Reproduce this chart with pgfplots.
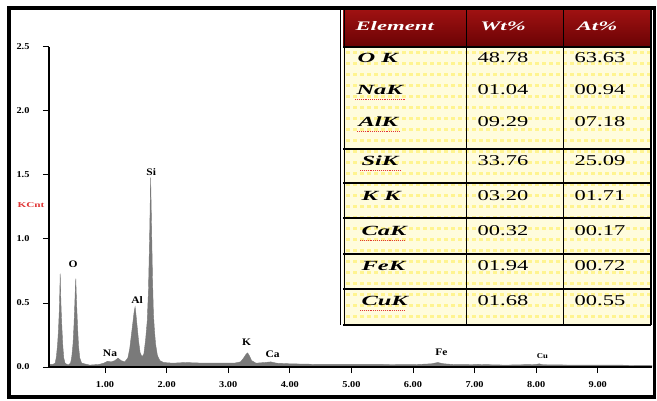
\documentclass[border=0pt]{standalone}
\usepackage{pgfplots}
\pgfplotsset{compat=1.18}
\usepackage{fontspec}
\setmainfont{Liberation Serif}
\newfontfamily\tabname[FakeStretch=1.75]{Liberation Serif}
\newfontfamily\tabnum[FakeStretch=1.5]{Liberation Serif}
\newfontfamily\tickfont[FakeStretch=1.15]{Liberation Serif}
\newfontfamily\kfont[FakeStretch=1.5]{Liberation Serif}
\definecolor{specgray}{HTML}{7A7A7A}
\definecolor{hdtop}{HTML}{A01212}
\definecolor{hdbot}{HTML}{6A0204}
\definecolor{ybg}{HTML}{FFFCDD}
\definecolor{ystripe}{HTML}{FFF490}
\definecolor{kred}{HTML}{E03535}
\begin{document}
\begin{tikzpicture}[x=1pt,y=1pt]
\useasboundingbox (0,0) rectangle (657,-401);
\fill[white] (0,0) rectangle (657,-401);
\begin{axis}[
  at={(49pt,-367pt)}, anchor=south west,
  scale only axis, width=603pt, height=320pt,
  xmin=0.09, xmax=9.88, ymin=0, ymax=2.5,
  axis x line=bottom, axis y line=left,
  axis line style={-, line width=1.3pt, black},
  axis on top,
  tick align=outside, major tick length=6pt,
  every tick/.style={black, line width=1pt},
  xtick={1,2,3,4,5,6,7,8,9},
  ytick={0,0.5,1,1.5,2,2.5},
  /pgf/number format/assume math mode=true,
  ticklabel style={font=\tickfont\fontsize{9}{10}\selectfont\bfseries},
  xticklabel style={/pgf/number format/.cd, fixed, fixed zerofill, precision=2, /tikz/.cd, yshift=-5pt},
  yticklabel style={/pgf/number format/.cd, fixed, fixed zerofill, precision=1, /tikz/.cd, xshift=-10pt},
  clip=false,
]
\addplot[fill=specgray, draw=specgray, line width=0.4pt] coordinates {
(0.09,0.02) (0.15,0.02) (0.19,0.03) (0.21,0.08) (0.23,0.18) (0.245,0.30)
(0.258,0.45) (0.267,0.62) (0.272,0.73) (0.278,0.60) (0.287,0.45) (0.30,0.30)
(0.315,0.16) (0.33,0.07) (0.35,0.03) (0.40,0.015)
(0.44,0.03) (0.46,0.08) (0.48,0.18) (0.495,0.32) (0.508,0.48) (0.518,0.62)
(0.525,0.69) (0.532,0.58) (0.542,0.45) (0.555,0.30) (0.57,0.16) (0.59,0.07)
(0.62,0.03) (0.75,0.015)
(0.90,0.02) (0.98,0.03) (1.04,0.045) (1.10,0.04) (1.16,0.05) (1.21,0.07)
(1.26,0.05) (1.32,0.04)
(1.37,0.07) (1.40,0.14) (1.425,0.24) (1.45,0.34) (1.472,0.43) (1.488,0.47)
(1.50,0.42) (1.52,0.32) (1.545,0.20) (1.57,0.11) (1.60,0.08)
(1.63,0.10) (1.66,0.22) (1.685,0.36) (1.705,0.60) (1.725,1.05) (1.74,1.48)
(1.755,1.10) (1.77,0.70) (1.785,0.42) (1.80,0.30) (1.82,0.18) (1.85,0.09)
(1.89,0.05) (1.95,0.035) (2.1,0.03) (2.3,0.035) (2.6,0.03) (2.9,0.03)
(3.1,0.03) (3.2,0.04) (3.25,0.07) (3.29,0.10) (3.315,0.11) (3.34,0.09)
(3.38,0.05) (3.45,0.03) (3.59,0.035) (3.69,0.04) (3.78,0.03) (4.0,0.025)
(4.5,0.02) (5.0,0.02) (5.5,0.02) (6.0,0.018) (6.3,0.025) (6.40,0.035)
(6.50,0.025) (6.7,0.018) (7.06,0.02) (7.5,0.015) (8.0,0.02) (8.05,0.025)
(8.1,0.018) (8.6,0.015) (9.2,0.015) (9.88,0.012)
} \closedcycle;
\begin{scope}[font=\tickfont\fontsize{10}{11}\selectfont\bfseries]
\node at (axis cs:0.48,0.80) {O};
\node at (axis cs:1.52,0.52) {Al};
\node at (axis cs:1.75,1.52) {Si};
\node at (axis cs:1.08,0.11) {Na};
\node at (axis cs:3.30,0.195) {K};
\node at (axis cs:3.72,0.10) {Ca};
\node at (axis cs:6.46,0.117) {Fe};
\node[font=\tickfont\fontsize{7.5}{8}\selectfont\bfseries] at (axis cs:8.10,0.086) {Cu};
\end{scope}
\end{axis}
% KCnt label
\node[font=\kfont\fontsize{7.5}{8}\selectfont\bfseries, text=kred] at (31,-205) {KCnt};
% table body
\fill[ybg] (343,-47) rectangle (651,-325);
\foreach \yy in {53,64,...,320}
  \draw[ystripe, line width=3pt, dash pattern=on 4pt off 3pt] (346,-\yy) -- (650,-\yy);
% header
\shade[top color=hdtop, bottom color=hdbot] (343,-9) rectangle (651,-47);
% lines
\draw[line width=1.2pt] (343,-47) -- (651,-47);
\foreach \yy in {149,183,218,254,289,325}
  \draw[line width=1.2pt] (343,-\yy) -- (651,-\yy);
\draw[line width=1pt] (466,-9) -- (466,-325);
\draw[line width=1pt] (563,-9) -- (563,-325);
\draw[line width=1.2pt] (651,-9) -- (651,-325);
\draw[line width=1.2pt] (340.5,-9) -- (340.5,-325);
\draw[line width=1.2pt] (344.5,-9) -- (344.5,-325);
% header text
\begin{scope}[font=\tabname\fontsize{13}{15}\selectfont\bfseries\itshape, text=white]
\node[anchor=west] at (352,-26) {Element};
\node at (503,-26) {Wt\%};
\node at (597,-26) {At\%};
\end{scope}
% names
\begin{scope}[font=\tabname\fontsize{14}{16}\selectfont\bfseries\itshape]
\node[anchor=west] at (354,-58) {O K};
\node[anchor=west] at (353,-90) {NaK};
\node[anchor=west] at (355,-122) {AlK};
\node[anchor=west] at (358,-161) {SiK};
\node[anchor=west] at (358,-196) {K K};
\node[anchor=west] at (358,-231) {CaK};
\node[anchor=west] at (358,-266) {FeK};
\node[anchor=west] at (358,-301) {CuK};
\end{scope}
\begin{scope}[kred, line width=0.9pt, densely dotted]
\draw (355,-99) -- (405,-99);
\draw (357,-131) -- (400,-131);
\draw (360,-170) -- (400,-170);
\draw (360,-240) -- (405,-240);
\draw (360,-310) -- (405,-310);
\end{scope}
% numbers
\begin{scope}[font=\tabnum\fontsize{15}{17}\selectfont]
\node at (503,-58) {48.78}; \node at (600,-58) {63.63};
\node at (503,-90) {01.04}; \node at (600,-90) {00.94};
\node at (503,-122) {09.29}; \node at (600,-122) {07.18};
\node at (503,-161) {33.76}; \node at (600,-161) {25.09};
\node at (503,-196) {03.20}; \node at (600,-196) {01.71};
\node at (503,-231) {00.32}; \node at (600,-231) {00.17};
\node at (503,-266) {01.94}; \node at (600,-266) {00.72};
\node at (503,-301) {01.68}; \node at (600,-301) {00.55};
\end{scope}
% outer frame
\draw[line width=3.5pt] (9,-8) rectangle (654.5,-397);
\end{tikzpicture}
\end{document}
